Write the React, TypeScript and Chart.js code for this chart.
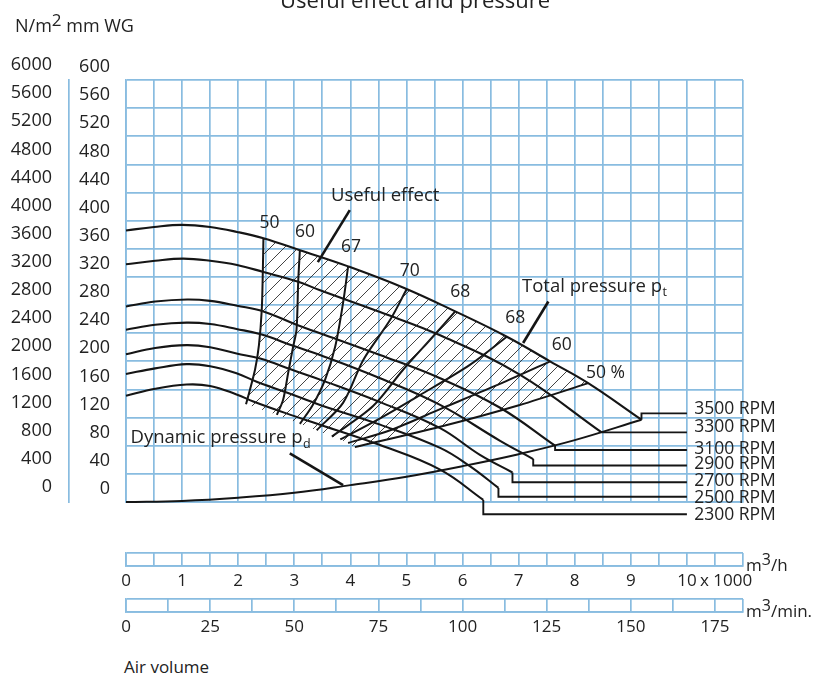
import React, { useEffect, useRef } from "react";
import { Chart, registerables } from "chart.js";

Chart.register(...registerables);

const FONT = '"Open Sans", "Noto Sans", sans-serif';
const GRID = "#89bce0";
const INK = "#151515";
const TEXT = "#222222";

// ---------- axis tick labels ----------
const yTicksMm = [0, 40, 80, 120, 160, 200, 240, 280, 320, 360, 400, 440, 480, 520, 560, 600];
const yTicksPa = [0, 400, 800, 1200, 1600, 2000, 2400, 2800, 3200, 3600, 4000, 4400, 4800, 5200, 5600, 6000];
const flowTicksM3h = [0, 1, 2, 3, 4, 5, 6, 7, 8, 9, 10];
const flowTicksM3min = [0, 25, 50, 75, 100, 125, 150, 175];

// ---------- total pressure curves: x = 1000 m3/h, y = mm WG ----------
const rpmNames = ["3500 RPM", "3300 RPM", "3100 RPM", "2900 RPM", "2700 RPM", "2500 RPM", "2300 RPM"];
const rpm3500: [number, number][] = [[0, 386], [0.5, 391], [1.0, 394], [1.5, 391], [1.98, 384], [2.45, 375], [3.1, 358], [3.96, 335], [4.97, 304], [5.87, 271], [6.79, 235], [7.56, 200], [8.24, 169], [9.19, 117]];
const rpm3300: [number, number][] = [[0, 338], [0.52, 343], [1.02, 346], [1.5, 343], [1.98, 337], [2.45, 327], [3.07, 313], [3.46, 301], [4.53, 270], [5.6, 237], [7.02, 181], [8.48, 99]];
const rpm3100: [number, number][] = [[0, 278], [0.52, 285], [1.09, 288], [1.5, 286], [1.98, 279], [2.45, 271], [3.04, 252], [3.46, 240], [4.53, 209], [5.6, 176], [6.67, 134], [7.65, 80]];
const rpm2900: [number, number][] = [[0, 245], [0.52, 252], [1.08, 255], [1.5, 253], [1.97, 246], [2.42, 238], [2.98, 222], [3.46, 209], [4.53, 176], [5.6, 138], [6.67, 87], [7.26, 61]];
const rpm2700: [number, number][] = [[0, 210], [0.52, 219], [1.08, 223], [1.5, 220], [1.97, 211], [2.39, 204], [2.96, 188], [3.46, 174], [4.53, 142], [5.6, 105], [6.31, 67], [6.89, 42]];
const rpm2500: [number, number][] = [[0, 182], [0.52, 190], [1.08, 196], [1.5, 193], [1.97, 183], [2.33, 171], [2.89, 155], [3.46, 138], [4.53, 110], [5.6, 77], [6.13, 51], [6.64, 20]];
const rpm2300: [number, number][] = [[0, 151], [0.52, 161], [1.08, 167], [1.5, 165], [1.97, 153], [2.27, 143], [2.86, 126], [3.46, 110], [4.53, 81], [5.6, 46], [6.37, 3]];

// leader lines from each curve end to its RPM label
const lead3500: [number, number][] = [[9.19, 117], [9.19, 126], [10.0, 126]];
const lead3300: [number, number][] = [[8.48, 99], [10.0, 99]];
const lead3100: [number, number][] = [[7.65, 80], [7.65, 74], [10.0, 74]];
const lead2900: [number, number][] = [[7.26, 61], [7.26, 52], [10.0, 52]];
const lead2700: [number, number][] = [[6.89, 42], [6.89, 28], [10.0, 28]];
const lead2500: [number, number][] = [[6.64, 20], [6.64, 7.5], [10.0, 7.5]];
const lead2300: [number, number][] = [[6.37, 3], [6.37, -17.5], [10.0, -17.5]];
const rpmLabelY = [132, 106, 76, 54, 30, 6, -18.5];
const rpmLabelX = 10.13;

// dynamic pressure
const dynamicPressure: [number, number][] = [[0, 0], [1, 1.5], [2, 6], [3, 13], [4, 24], [5, 36], [6, 51], [7, 68], [8, 88], [9.19, 117]];

// iso-efficiency lines
const eff50a: [number, number][] = [[2.45, 375], [2.44, 330], [2.42, 273], [2.37, 223], [2.3, 188], [2.14, 139]];
const eff60a: [number, number][] = [[3.1, 358], [3.07, 313], [3.04, 245], [2.98, 221], [2.89, 183], [2.8, 145], [2.69, 124]];
const eff67: [number, number][] = [[3.96, 335], [3.87, 283], [3.73, 221], [3.55, 174], [3.33, 138], [3.1, 111]];
const eff70: [number, number][] = [[5.0, 302], [4.71, 259], [4.23, 202], [3.87, 141], [3.4, 102]];
const eff68a: [number, number][] = [[5.87, 271], [5.47, 235], [4.94, 188], [4.4, 136], [3.67, 93]];
const eff68b: [number, number][] = [[6.79, 235], [6.13, 195], [5.24, 152], [4.53, 119], [3.82, 89]];
const eff60b: [number, number][] = [[7.56, 200], [6.58, 165], [5.6, 132], [4.71, 102], [3.96, 84]];
const eff50b: [number, number][] = [[8.24, 169], [7.02, 138], [5.6, 107], [4.08, 78]];
const effLabels = ["50", "60", "67", "70", "68", "68", "60", "50 %"];
const effLabelX = [2.56, 3.19, 4.01, 5.06, 5.96, 6.94, 7.77, 8.38];
const effLabelY = [397, 384, 363, 329, 298, 261, 223, 183];

// hatched zone of useful effect
const hatchZone: [number, number][] = [
  [2.45, 375], [2.44, 330], [2.42, 273], [2.37, 223], [2.3, 188], [2.14, 139],
  [2.69, 124], [3.1, 111], [3.4, 102], [3.67, 93], [3.82, 89], [3.96, 84], [4.08, 78],
  [5.6, 107], [7.02, 138], [8.24, 169],
  [7.56, 200], [6.79, 235], [5.87, 271], [4.97, 304], [3.96, 335], [3.1, 358], [2.45, 375],
];

// pointers of the annotations
const usefulPointer: [number, number][] = [[3.99, 415], [3.42, 341]];
const totalPointer: [number, number][] = [[7.53, 285], [7.08, 226]];
const dynamicPointer: [number, number][] = [[2.92, 69], [3.87, 24]];
const notes = [
  { text: "Useful effect", sub: "", x: 4.62, y: 436, align: "center" },
  { text: "Total pressure p", sub: "t", x: 7.06, y: 306, align: "left" },
  { text: "Dynamic pressure p", sub: "d", x: 0.08, y: 91, align: "left" },
];

const pts = (a: [number, number][]) => a.map(([x, y]) => ({ x, y }));

function makeHatch(): CanvasPattern | string {
  const c = document.createElement("canvas");
  const s = 14;
  c.width = s;
  c.height = s;
  const g = c.getContext("2d");
  if (!g) return "rgba(0,0,0,0.1)";
  g.strokeStyle = "#222";
  g.lineWidth = 0.85;
  g.beginPath();
  g.moveTo(-1, s + 1);
  g.lineTo(s + 1, -1);
  g.moveTo(-1, 1);
  g.lineTo(1, -1);
  g.moveTo(s - 1, s + 1);
  g.lineTo(s + 1, s - 1);
  g.stroke();
  const p = g.createPattern(c, "repeat");
  return p || "rgba(0,0,0,0.1)";
}

const textPlugin = {
  id: "chartTexts",
  afterDatasetsDraw(chart: any) {
    const { ctx, scales } = chart;
    const xs = scales.x;
    const ys = scales.y;
    ctx.save();
    ctx.fillStyle = TEXT;
    ctx.textBaseline = "middle";
    ctx.font = `17.5px ${FONT}`;
    effLabels.forEach((t, i) => {
      const last = i === effLabels.length - 1;
      ctx.textAlign = last ? "left" : "center";
      ctx.fillText(t, xs.getPixelForValue(effLabelX[i]) - (last ? 10 : 0), ys.getPixelForValue(effLabelY[i]));
    });
    rpmNames.forEach((t, i) => {
      ctx.textAlign = "left";
      ctx.fillText(t, xs.getPixelForValue(rpmLabelX), ys.getPixelForValue(rpmLabelY[i]));
    });
    notes.forEach((n) => {
      ctx.font = `18.5px ${FONT}`;
      ctx.textAlign = n.align as CanvasTextAlign;
      const px = xs.getPixelForValue(n.x);
      const py = ys.getPixelForValue(n.y);
      ctx.fillText(n.text, px, py);
      if (n.sub) {
        const w = ctx.measureText(n.text).width;
        ctx.font = `12.5px ${FONT}`;
        ctx.textAlign = "left";
        ctx.fillText(n.sub, px + w + 0.5, py + 6);
      }
    });
    ctx.restore();
  },
};

function lineDs(data: [number, number][], width: number, tension: number) {
  return {
    data: pts(data),
    borderColor: INK,
    borderWidth: width,
    pointRadius: 0,
    tension,
    fill: false,
    clip: false as any,
  };
}

function MainChart() {
  const ref = useRef<HTMLCanvasElement>(null);
  useEffect(() => {
    if (!ref.current) return;
    const hatch = makeHatch();
    const curves = [rpm3500, rpm3300, rpm3100, rpm2900, rpm2700, rpm2500, rpm2300];
    const leads = [lead3500, lead3300, lead3100, lead2900, lead2700, lead2500, lead2300];
    const effs = [eff50a, eff60a, eff67, eff70, eff68a, eff68b, eff60b, eff50b];
    const datasets: any[] = [
      {
        data: pts(hatchZone),
        borderWidth: 0,
        borderColor: "rgba(0,0,0,0)",
        backgroundColor: hatch,
        pointRadius: 0,
        tension: 0,
        fill: "shape",
      },
      ...curves.map((c) => lineDs(c, 2.1, 0.4)),
      ...leads.map((c) => lineDs(c, 1.9, 0)),
      lineDs(dynamicPressure, 2, 0.4),
      ...effs.map((c) => lineDs(c, 2, 0.3)),
      lineDs(usefulPointer, 2.6, 0),
      lineDs(totalPointer, 2.6, 0),
      lineDs(dynamicPointer, 2.6, 0),
    ];
    const chart = new Chart(ref.current, {
      type: "line",
      data: { datasets },
      plugins: [textPlugin as any],
      options: {
        animation: false,
        responsive: false,
        maintainAspectRatio: false,
        events: [],
        layout: { padding: { left: 0, right: 87, top: 80, bottom: 28 } },
        plugins: { legend: { display: false }, tooltip: { enabled: false }, title: { display: false } },
        scales: {
          x: {
            type: "linear",
            min: 0,
            max: 11,
            ticks: { display: false, stepSize: 0.5, autoSkip: false },
            grid: { color: GRID, lineWidth: 1.7, drawTicks: false },
            border: { color: GRID, width: 1.7 },
            afterFit: (s: any) => { s.height = 0; },
          },
          y: {
            type: "linear",
            position: "left",
            weight: 0,
            min: 0,
            max: 600,
            afterBuildTicks: (s: any) => { s.ticks = yTicksMm.map((v) => ({ value: v })); },
            ticks: { color: TEXT, font: { family: FONT, size: 18 }, padding: 16, labelOffset: -13, autoSkip: false, callback: (v: any) => String(v) },
            grid: { color: GRID, lineWidth: 1.7, drawTicks: false },
            border: { color: GRID, width: 1.7 },
            afterFit: (s: any) => { s.width = 57; },
          },
          yPa: {
            type: "linear",
            position: "left",
            weight: 10,
            min: 0,
            max: 6000,
            afterBuildTicks: (s: any) => { s.ticks = yTicksPa.map((v) => ({ value: v })); },
            ticks: { color: TEXT, font: { family: FONT, size: 18 }, padding: 17, labelOffset: -15, autoSkip: false, callback: (v: any) => String(v) },
            grid: { display: false, drawTicks: false },
            border: { display: true, color: GRID, width: 1.7 },
            afterFit: (s: any) => { s.width = 69; },
          },
        },
      } as any,
    });
    return () => chart.destroy();
  }, []);
  return <canvas ref={ref} width={830} height={530} style={{ position: "absolute", left: 0, top: 0, width: 830, height: 530 }} />;
}

function Ruler({ top, max, step, labels, height }: { top: number; max: number; step: number; labels: number[]; height: number }) {
  const ref = useRef<HTMLCanvasElement>(null);
  useEffect(() => {
    if (!ref.current) return;
    const chart = new Chart(ref.current, {
      type: "line",
      data: { datasets: [] },
      options: {
        animation: false,
        responsive: false,
        maintainAspectRatio: false,
        events: [],
        layout: { padding: { left: 126, right: 87, top: 8, bottom: 0 } },
        plugins: { legend: { display: false }, tooltip: { enabled: false } },
        scales: {
          x: {
            type: "linear",
            min: 0,
            max,
            afterBuildTicks: (s: any) => {
              const t: { value: number }[] = [];
              for (let v = 0; v < max - 1e-6; v += step) t.push({ value: v });
              t.push({ value: max });
              s.ticks = t;
            },
            ticks: {
              autoSkip: false,
              maxRotation: 0,
              padding: 5,
              color: TEXT,
              font: { family: FONT, size: 17 },
              callback: (v: any) => {
                const l = labels.find((q) => Math.abs(q - Number(v)) < 1e-6);
                return l === undefined ? "" : String(l);
              },
            },
            grid: { color: GRID, lineWidth: 1.7, drawTicks: false },
            border: { color: GRID, width: 1.7 },
            afterFit: (s: any) => { s.height = 50 - 8 - height; },
          },
          y: {
            type: "linear",
            min: 0,
            max: 1,
            afterBuildTicks: (s: any) => { s.ticks = [{ value: 0 }, { value: 1 }]; },
            ticks: { display: false },
            grid: { color: GRID, lineWidth: 1.7, drawTicks: false },
            border: { color: GRID, width: 1.7 },
            afterFit: (s: any) => { s.width = 0; },
          },
        },
      } as any,
    });
    return () => chart.destroy();
  }, []);
  return <canvas ref={ref} width={830} height={50} style={{ position: "absolute", left: 0, top, width: 830, height: 50 }} />;
}

const txt: React.CSSProperties = {
  position: "absolute",
  fontFamily: FONT,
  color: TEXT,
  whiteSpace: "nowrap",
  lineHeight: 1,
};

export default function App() {
  return (
    <div style={{ position: "absolute", left: 0, top: 0, width: 830, height: 679, background: "#fff", overflow: "hidden" }}>
      <MainChart />
      <Ruler top={545} max={11} step={0.5} labels={flowTicksM3h} height={13} />
      <Ruler top={591} max={183.333} step={12.5} labels={flowTicksM3min} height={13} />
      <div style={{ ...txt, left: 0, width: 830, textAlign: "center", top: -12, fontSize: 22 }}>Useful effect and pressure</div>
      <div style={{ ...txt, left: 15, top: 11, fontSize: 18 }}>
        N/m<sup style={{ fontSize: 17, verticalAlign: 6 }}>2</sup> mm WG
      </div>
      <div style={{ ...txt, left: 700, top: 571, fontSize: 17 }}>x 1000</div>
      <div style={{ ...txt, left: 746, top: 551, fontSize: 17 }}>
        m<sup style={{ fontSize: 16, verticalAlign: 6 }}>3</sup>/h
      </div>
      <div style={{ ...txt, left: 746, top: 597, fontSize: 17 }}>
        m<sup style={{ fontSize: 16, verticalAlign: 6 }}>3</sup>/min.
      </div>
      <div style={{ ...txt, left: 124, top: 658, fontSize: 17 }}>Air volume</div>
    </div>
  );
}
